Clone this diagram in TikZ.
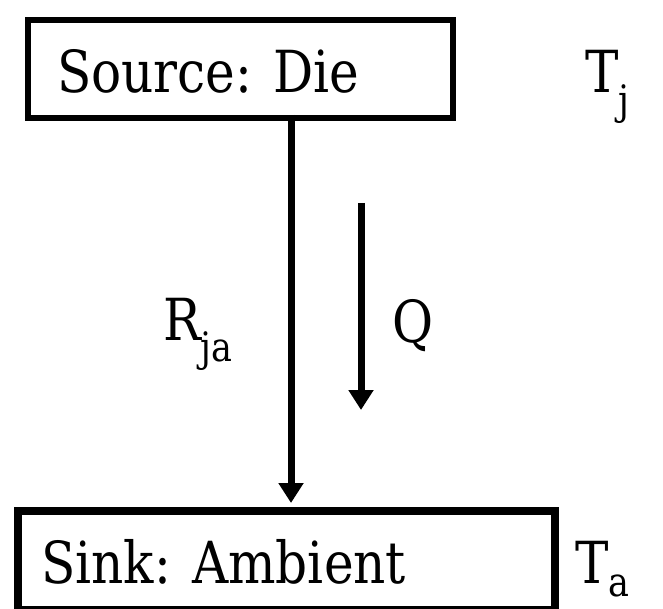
\documentclass[tikz,border=0pt]{standalone}
\usepackage{fontspec}
\usepackage{graphicx}
\newfontfamily\tmsfont{DejaVu Serif Condensed}
\usetikzlibrary{arrows.meta}
\newcommand\sqz[1]{\scalebox{0.96}[1]{#1}}
\begin{document}
\begin{tikzpicture}[x=1pt,y=-1pt,
  lbl/.style={inner sep=0pt,anchor=base west,font=\tmsfont\fontsize{58}{66}\selectfont},
  boxA/.style={draw,line width=6pt,inner sep=0pt},
  flow/.style={line width=7pt,-{Triangle[width=24pt,length=20pt]}}]
\useasboundingbox (0,0) rectangle (663,609);
\node[boxA,line width=6pt,minimum width=425pt,minimum height=98pt,anchor=north west] (src) at (25,17) {};
\node[boxA,line width=8pt,minimum width=537pt,minimum height=99pt,anchor=north west] (snk) at (14,507) {};
\node[lbl] (srct) at (57,93) {\sqz{Source: Die}};
\node[lbl] (snkt) at (41,583) {\sqz{Sink: Ambient}};
\node[lbl] (tj) at (585,93) {\sqz{T\textsubscript{j}}};
\node[lbl] (ta) at (575,583) {\sqz{T\textsubscript{a}}};
\node[lbl] (rja) at (163,340) {\sqz{R\textsubscript{ja}}};
\node[lbl] (q) at (392,342) {\sqz{Q}};
\coordinate (a1) at (291,115);
\coordinate (a2) at (291,503);
\draw[flow] (a1) -- (a2);
\coordinate (q1) at (361,203);
\coordinate (q2) at (361,410);
\draw[flow] (q1) -- (q2);
\end{tikzpicture}
\end{document}
